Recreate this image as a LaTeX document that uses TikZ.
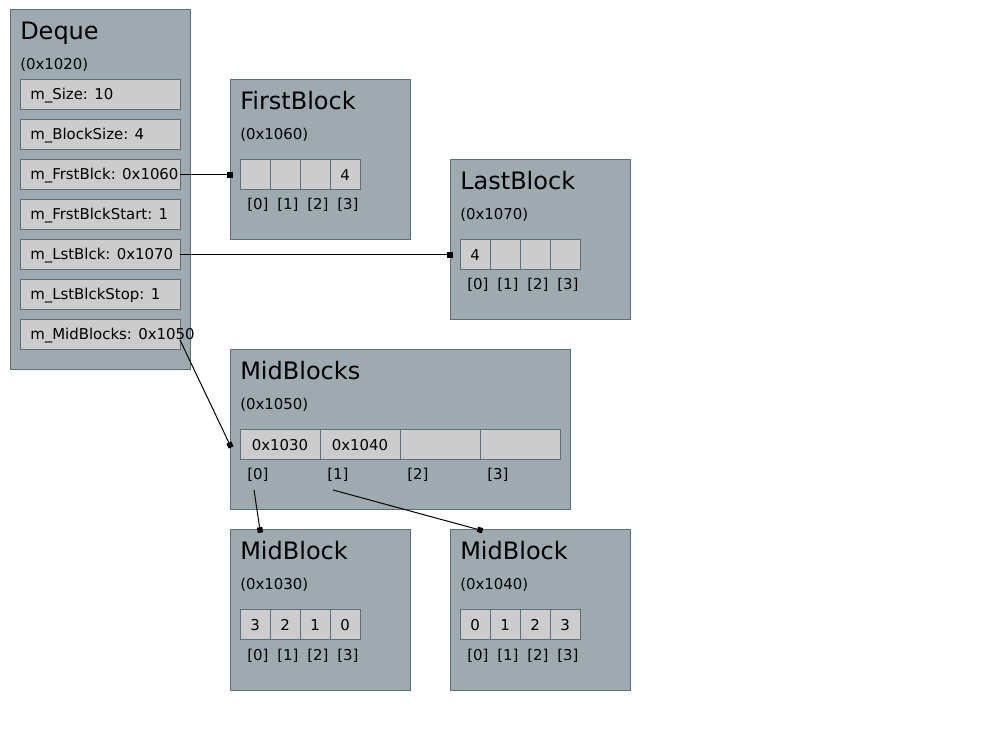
\documentclass[tikz,border=0pt]{standalone}
\usepackage{fontspec}
\setmainfont{DejaVu Sans}
\usetikzlibrary{arrows.meta}
\definecolor{boxf}{HTML}{9EAAB0}
\definecolor{bord}{HTML}{5C707A}
\definecolor{cellf}{HTML}{CCCCCC}
\begin{document}
\begin{tikzpicture}[x=0.75pt,y=-0.75pt,
  blk/.style={draw=bord, fill=boxf, line width=0.75pt, inner sep=0pt, outer sep=0pt, anchor=north west},
  cellbox/.style={draw=bord, fill=cellf, line width=0.75pt, inner sep=0pt, outer sep=0pt, minimum height=22.5pt, anchor=north west, font=\fontsize{11.2}{13}\selectfont},
  ttl/.style={anchor=base west, inner sep=0pt, font=\fontsize{18}{20}\selectfont},
  sm/.style={anchor=base west, inner sep=0pt, font=\fontsize{11.2}{13}\selectfont},
  conn/.style={draw=black, line width=0.75pt, -{Square[length=4pt,width=4pt]}, shorten >=-2pt}]
\useasboundingbox (0,0) rectangle (1000,730);

% Deque
\node[blk, minimum width=135pt, minimum height=270pt] (deque) at (10,10) {};
\node[ttl] (dequeT) at (20,40) {Deque};
\node[sm] (dequeA) at (20,70) {(0x1020)};
\foreach \n/\t [count=\i from 0] in {fsize/{m\_Size: 10}, fbsz/{m\_BlockSize: 4}, ffrst/{m\_FrstBlck: 0x1060}, ffst/{m\_FrstBlckStart: 1}, flst/{m\_LstBlck: 0x1070}, flstop/{m\_LstBlckStop: 1}, fmid/{m\_MidBlocks: 0x1050}} {
  \node[cellbox, minimum width=120pt] (\n) at (20,80+40*\i) {};
  \node[sm] (\n T) at (30,100+40*\i) {\t};
}

% FirstBlock
\node[blk, minimum width=135pt, minimum height=120pt] (first) at (230,80) {};
\node[ttl] (firstT) at (240,110) {FirstBlock};
\node[sm] (firstA) at (240,140) {(0x1060)};
\foreach \v [count=\i from 0] in {{},{},{},4} {
  \node[cellbox, minimum width=22.5pt] (fb\i) at (240+30*\i,160) {\v};
  \node[sm] (fbl\i) at (247+30*\i,210) {[\i]};
}

% LastBlock
\node[blk, minimum width=135pt, minimum height=120pt] (last) at (450,160) {};
\node[ttl] (lastT) at (460,190) {LastBlock};
\node[sm] (lastA) at (460,220) {(0x1070)};
\foreach \v [count=\i from 0] in {4,{},{},{}} {
  \node[cellbox, minimum width=22.5pt] (lb\i) at (460+30*\i,240) {\v};
  \node[sm] (lbl\i) at (467+30*\i,290) {[\i]};
}

% MidBlocks
\node[blk, minimum width=255pt, minimum height=120pt] (mids) at (230,350) {};
\node[ttl] (midsT) at (240,380) {MidBlocks};
\node[sm] (midsA) at (240,410) {(0x1050)};
\foreach \v [count=\i from 0] in {0x1030,0x1040,{},{}} {
  \node[cellbox, minimum width=60pt] (mb\i) at (240+80*\i,430) {\v};
  \node[sm] (mbl\i) at (247+80*\i,480) {[\i]};
}

% MidBlock A
\node[blk, minimum width=135pt, minimum height=120pt] (midA) at (230,530) {};
\node[ttl] (midAT) at (240,560) {MidBlock};
\node[sm] (midAA) at (240,590) {(0x1030)};
\foreach \v [count=\i from 0] in {3,2,1,0} {
  \node[cellbox, minimum width=22.5pt] (ma\i) at (240+30*\i,610) {\v};
  \node[sm] (mal\i) at (247+30*\i,660) {[\i]};
}

% MidBlock B
\node[blk, minimum width=135pt, minimum height=120pt] (midB) at (450,530) {};
\node[ttl] (midBT) at (460,560) {MidBlock};
\node[sm] (midBA) at (460,590) {(0x1040)};
\foreach \v [count=\i from 0] in {0,1,2,3} {
  \node[cellbox, minimum width=22.5pt] (mbb\i) at (460+30*\i,610) {\v};
  \node[sm] (mbbl\i) at (467+30*\i,660) {[\i]};
}

% connectors
\coordinate (m0s) at (254,490);
\coordinate (m1s) at (333,490);
\draw[conn] (ffrst.east) -- (first.west |- fb0.west);
\draw[conn] (flst.east) -- (last.west |- lb0.west);
\draw[conn] ([yshift=-3.75pt]fmid.east) -- (mids.west |- mb0.west);
\draw[conn] (m0s) -- ([xshift=22.5pt]midA.north west);
\draw[conn] (m1s) -- ([xshift=22.5pt]midB.north west);
\end{tikzpicture}
\end{document}
